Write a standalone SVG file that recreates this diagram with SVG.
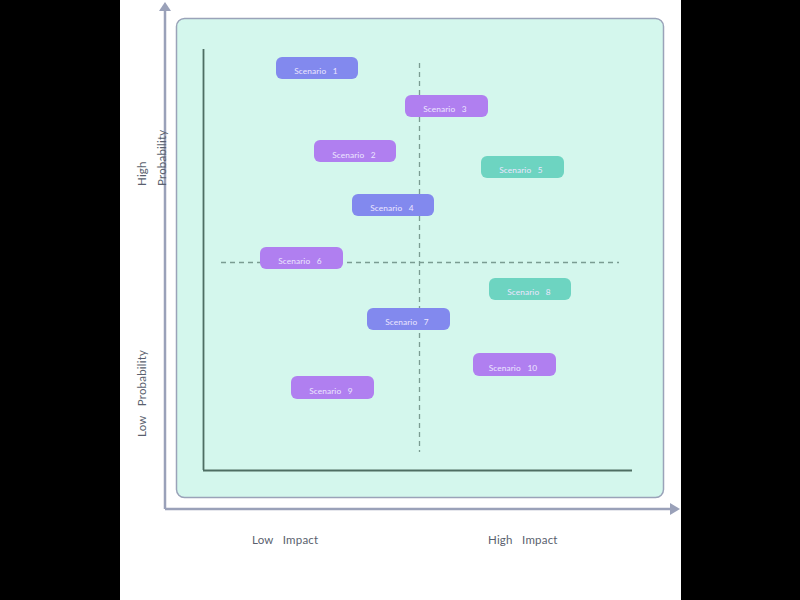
<svg xmlns="http://www.w3.org/2000/svg" width="800" height="600" viewBox="0 0 800 600">
<defs>
<style>
text{white-space:pre}
.lbl{font-family:Lato,"Open Sans",sans-serif;font-size:11.5px;letter-spacing:0.2px;fill:#5a5f6e}
.sc{font-family:Lato,"Open Sans",sans-serif;font-size:8.3px;letter-spacing:0.1px;fill:#ece6ff;text-anchor:middle}
.blue{fill:#8289ee}
.purp{fill:#b07ff0}
.teal{fill:#6dd4c1}
.dash{stroke:#7a9c92;stroke-width:1.3;stroke-dasharray:5 4;fill:none}
</style>
</defs>
<rect x="0" y="0" width="800" height="600" fill="#ffffff"/>
<rect x="0" y="0" width="120" height="600" fill="#000000"/>
<rect x="681" y="0" width="119" height="600" fill="#000000"/>
<rect x="176.5" y="18.5" width="487" height="479" rx="8" fill="#d4f7ed" stroke="#9aa3b9" stroke-width="1.5"/>
<g id="connectors">
<line x1="165" y1="509" x2="165" y2="8" stroke="#9aa1b9" stroke-width="2.5"/>
<path d="M159,11 L165,2 L171,11 z" fill="#9aa1b9"/>
<line x1="165" y1="509" x2="672" y2="509" stroke="#9aa1b9" stroke-width="2.5"/>
<path d="M670,503 L680,509 L670,515 z" fill="#9aa1b9"/>
<line x1="203.5" y1="49" x2="203.5" y2="470" stroke="#4e6e63" stroke-width="1.8"/>
<line x1="203" y1="470.5" x2="632" y2="470.5" stroke="#4e6e63" stroke-width="1.8"/>
<line class="dash" x1="419.5" y1="63" x2="419.5" y2="452"/>
<line class="dash" x1="221" y1="262.5" x2="619" y2="262.5"/>
</g>
<g id="s1"><rect class="blue" x="276" y="57" width="82" height="22" rx="6"/><text class="sc" x="316" y="74">Scenario   1</text></g>
<g id="s3"><rect class="purp" x="405" y="95" width="83" height="22" rx="6"/><text class="sc" x="445" y="112">Scenario   3</text></g>
<g id="s2"><rect class="purp" x="314" y="140" width="82" height="22" rx="6"/><text class="sc" x="354" y="158">Scenario   2</text></g>
<g id="s5"><rect class="teal" x="481" y="156" width="83" height="22" rx="6"/><text class="sc" x="521" y="173">Scenario   5</text></g>
<g id="s4"><rect class="blue" x="352" y="194" width="82" height="22" rx="6"/><text class="sc" x="392" y="211">Scenario   4</text></g>
<g id="s6"><rect class="purp" x="260" y="247" width="83" height="22" rx="6"/><text class="sc" x="300" y="264">Scenario   6</text></g>
<g id="s8"><rect class="teal" x="489" y="278" width="82" height="22" rx="6"/><text class="sc" x="529" y="295">Scenario   8</text></g>
<g id="s7"><rect class="blue" x="367" y="308" width="83" height="22" rx="6"/><text class="sc" x="407" y="325">Scenario   7</text></g>
<g id="s10"><rect class="purp" x="473" y="353" width="83" height="23" rx="6"/><text class="sc" x="513" y="371">Scenario   10</text></g>
<g id="s9"><rect class="purp" x="291" y="376" width="83" height="23" rx="6"/><text class="sc" x="331" y="394">Scenario   9</text></g>
<g id="labels">
<text class="lbl" transform="translate(146,186) rotate(-90)">High</text>
<text class="lbl" transform="translate(166,186) rotate(-90)">Probability</text>
<text class="lbl" transform="translate(146,437) rotate(-90)">Low   Probability</text>
<text class="lbl" x="252" y="544">Low   Impact</text>
<text class="lbl" x="488" y="544">High   Impact</text>
</g>
</svg>
